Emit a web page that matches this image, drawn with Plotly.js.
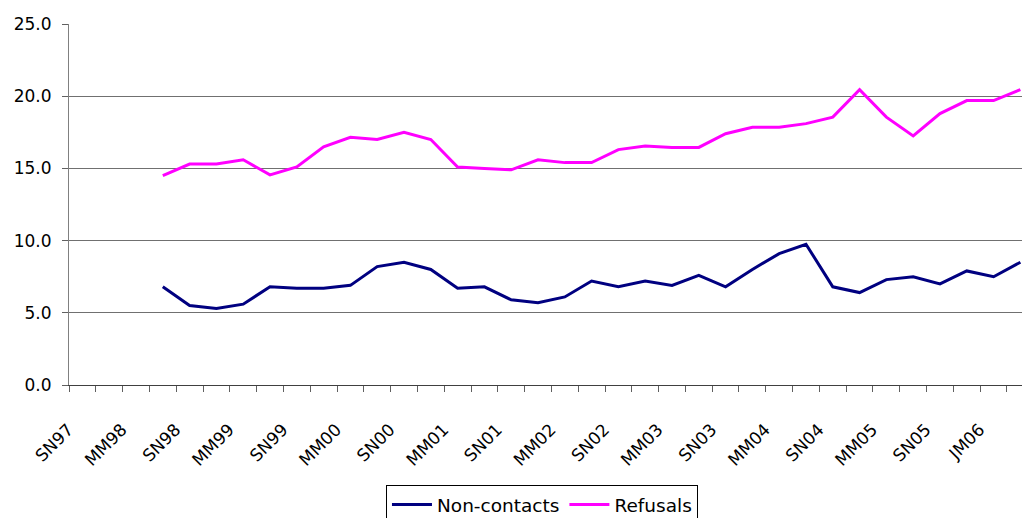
<!DOCTYPE html>
<html>
<head>
<meta charset="utf-8">
<script src="https://cdn.plot.ly/plotly-3.0.1.min.js"></script>
<style>
  html, body { margin: 0; padding: 0; background: #fff; overflow: hidden; }
  #chart { width: 1022px; height: 518px; }
</style>
</head>
<body>
<div id="chart"></div>
<script>
// Quarters (category axis)
const categories = [
  "SN97","DF98","MM98","JA98","SN98","DF99","MM99","JA99","SN99","DF00",
  "MM00","JA00","SN00","DF01","MM01","JA01","SN01","DF02","MM02","JA02",
  "SN02","DF03","MM03","JA03","SN03","DF04","MM04","JA04","SN04","DF05",
  "MM05","JA05","SN05","OD05","JM06","AJ06"
];
// Shown tick labels (every second quarter)
const tickLabels = [
  "SN97","","MM98","","SN98","","MM99","","SN99","",
  "MM00","","SN00","","MM01","","SN01","","MM02","",
  "SN02","","MM03","","SN03","","MM04","","SN04","",
  "MM05","","SN05","","JM06",""
];
// Series values (null = no data)
const nonContacts = [
  null,null,null,6.8,5.5,5.3,5.6,6.8,6.7,6.7,
  6.9,8.2,8.5,8.0,6.7,6.8,5.9,5.7,6.1,7.2,
  6.8,7.2,6.9,7.6,6.8,8.0,9.1,9.75,6.8,6.4,
  7.3,7.5,7.0,7.9,7.5,8.5
];
const refusals = [
  null,null,null,14.5,15.3,15.3,15.6,14.55,15.1,16.5,
  17.15,17.0,17.5,17.0,15.1,15.0,14.9,15.6,15.4,15.4,
  16.3,16.55,16.45,16.45,17.4,17.85,17.85,18.1,18.55,20.45,
  18.55,17.25,18.8,19.7,19.7,20.45
];
const yTickVals = [0, 5, 10, 15, 20, 25];
const yTickText = ["0.0", "5.0", "10.0", "15.0", "20.0", "25.0"];

const traces = [
  { type: "scatter", mode: "lines", name: "Non-contacts",
    x: categories, y: nonContacts,
    line: { color: "#000080", width: 3 } },
  { type: "scatter", mode: "lines", name: "Refusals",
    x: categories, y: refusals,
    line: { color: "#FF00FF", width: 3 } }
];

const layout = {
  width: 1022, height: 518,
  margin: { l: 69, r: 0, t: 24, b: 133, autoexpand: false },
  paper_bgcolor: "#fff", plot_bgcolor: "#fff",
  font: { family: "DejaVu Sans, sans-serif", size: 17, color: "#000" },
  showlegend: true,
  legend: {
    orientation: "h", x: 0.3326, xanchor: "left", y: -0.277, yanchor: "top",
    bordercolor: "#000", borderwidth: 1, font: { size: 18.5 },
    itemwidth: 40, tracegroupgap: 0
  },
  xaxis: {
    type: "category", range: [-0.5, 35.06],
    tickmode: "array", tickvals: categories, ticktext: tickLabels,
    tickson: "boundaries", ticks: "outside", ticklen: 6, tickcolor: "#606060",
    tickangle: -45, showgrid: false, zeroline: false,
    showline: true, linecolor: "#404040", linewidth: 1,
    ticklabelstandoff: 27, ticklabelshift: -14,
    tickfont: { size: 17 }
  },
  yaxis: {
    range: [0, 25], tickmode: "array", tickvals: yTickVals, ticktext: yTickText,
    ticks: "outside", ticklen: 6, tickcolor: "#606060",
    showgrid: true, gridcolor: "#707070", gridwidth: 1,
    zeroline: false, showline: true, linecolor: "#808080", linewidth: 1,
    ticklabelstandoff: 7,
    tickfont: { size: 17 }
  }
};

Plotly.newPlot("chart", traces, layout, { staticPlot: true });
</script>
</body>
</html>
